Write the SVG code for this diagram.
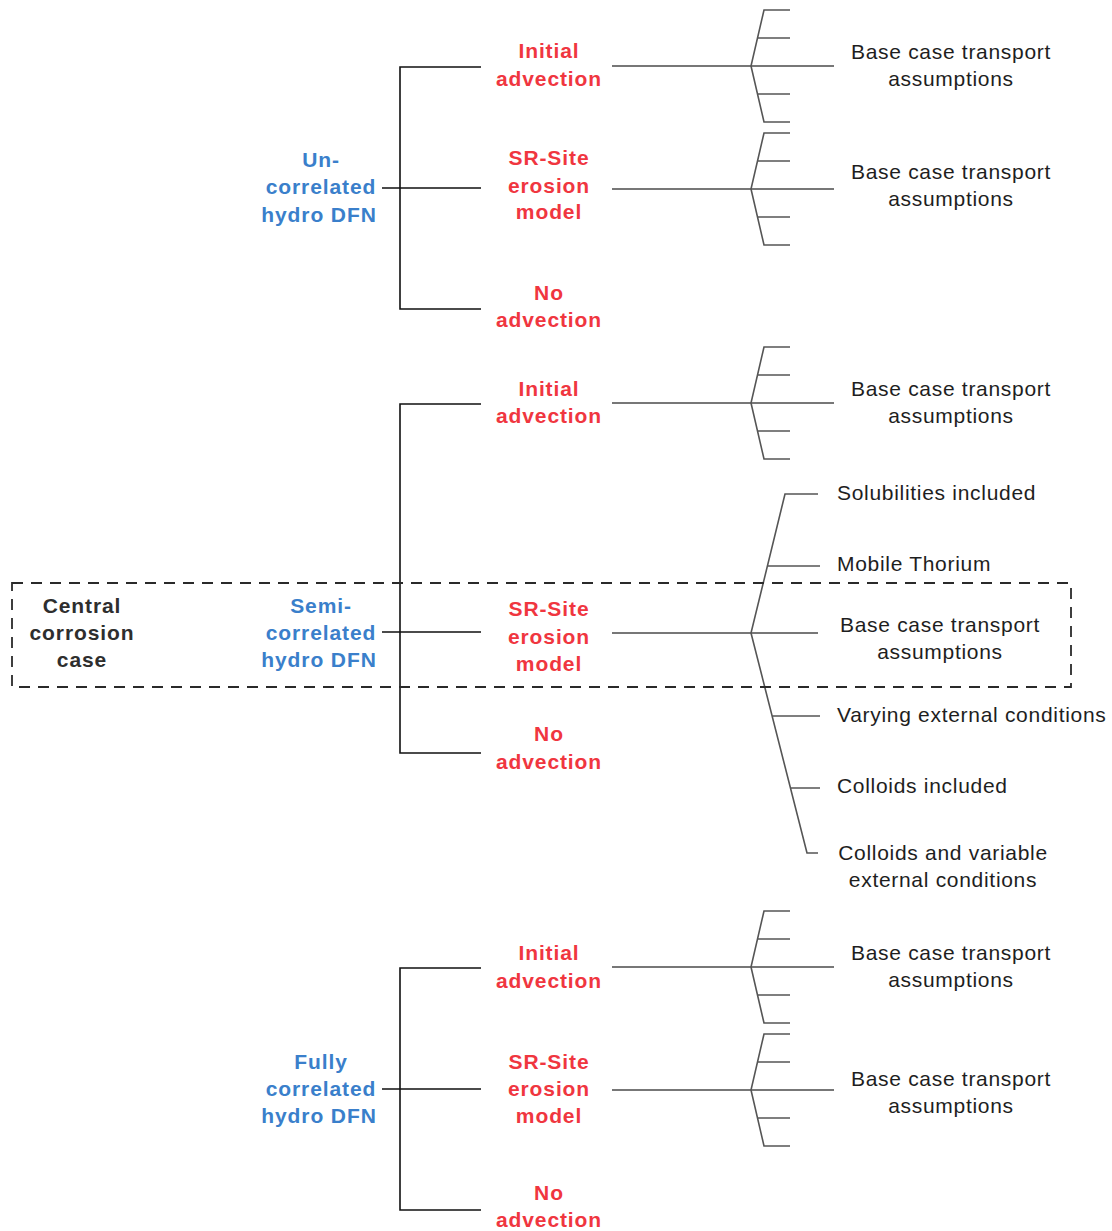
<svg xmlns="http://www.w3.org/2000/svg" width="1112" height="1231" viewBox="0 0 1112 1231">
<style>
.red{font-family:"Liberation Sans",Arial,sans-serif;font-weight:bold;font-size:21px;fill:#f0363f;text-anchor:middle;letter-spacing:0.9px}
.blue{font-family:"Liberation Sans",Arial,sans-serif;font-weight:bold;font-size:21px;fill:#3a7fcb;text-anchor:middle;letter-spacing:0.9px}
.dark{font-family:"Liberation Sans",Arial,sans-serif;font-weight:bold;font-size:21px;fill:#2e2e2e;text-anchor:middle;letter-spacing:0.9px}
.blk{font-family:"Liberation Sans",Arial,sans-serif;font-size:21px;fill:#1e1e1e;letter-spacing:0.7px}
.mid{text-anchor:middle}
.br{fill:none;stroke:#111;stroke-width:1.6}
.fan{fill:none;stroke:#555;stroke-width:1.6}
.main{fill:none;stroke:#777;stroke-width:2}
.box{fill:none;stroke:#2a2a2a;stroke-width:1.8;stroke-dasharray:11 8}
</style>
<rect width="1112" height="1231" fill="#fff"/>
<defs>
<g id="fan5">
<path class="fan" d="M790,-56 H764 L751,0 L764,56 H790 M757.5,-28 H790 M757.5,28 H790"/>
</g>
</defs>
<g id="connectors">
<path class="br" d="M481,67 H400 V309 H481 M382,188 H481"/>
<path class="br" d="M481,404 H400 V753 H481 M382,632 H481"/>
<path class="br" d="M481,968 H400 V1210 H481 M382,1089 H481"/>
<path class="main" d="M612,66 H834"/>
<use href="#fan5" x="0" y="66"/>
<path class="main" d="M612,189 H834"/>
<use href="#fan5" x="0" y="189"/>
<path class="main" d="M612,403 H834"/>
<use href="#fan5" x="0" y="403"/>
<path class="main" d="M612,967 H834"/>
<use href="#fan5" x="0" y="967"/>
<path class="main" d="M612,1090 H834"/>
<use href="#fan5" x="0" y="1090"/>
<path class="main" d="M612,633 H818"/>
<path class="fan" d="M818,494 H785 L751,633 L807,853 H818 M767.5,566 H820 M772,716 H820 M790.5,788 H820"/>
</g>
<rect id="central-box" class="box" x="12" y="583" width="1059" height="104"/>
<g id="central"><text class="dark" x="82" y="613">Central</text><text class="dark" x="82" y="640">corrosion</text><text class="dark" x="82" y="667">case</text></g>
<g id="uncorrelated"><text class="blue" x="321" y="167">Un-</text><text class="blue" x="321" y="194">correlated</text><text class="blue" x="319" y="222">hydro DFN</text></g>
<g id="semicorrelated"><text class="blue" x="321" y="613">Semi-</text><text class="blue" x="321" y="640">correlated</text><text class="blue" x="319" y="667">hydro DFN</text></g>
<g id="fullycorrelated"><text class="blue" x="321" y="1069">Fully</text><text class="blue" x="321" y="1096">correlated</text><text class="blue" x="319" y="1123">hydro DFN</text></g>
<g id="u-initial"><text class="red" x="549" y="58">Initial</text><text class="red" x="549" y="86">advection</text></g>
<g id="u-srsite"><text class="red" x="549" y="165">SR-Site</text><text class="red" x="549" y="193">erosion</text><text class="red" x="549" y="219">model</text></g>
<g id="u-noadv"><text class="red" x="549" y="300">No</text><text class="red" x="549" y="327">advection</text></g>
<g id="s-initial"><text class="red" x="549" y="396">Initial</text><text class="red" x="549" y="423">advection</text></g>
<g id="s-srsite"><text class="red" x="549" y="616">SR-Site</text><text class="red" x="549" y="644">erosion</text><text class="red" x="549" y="671">model</text></g>
<g id="s-noadv"><text class="red" x="549" y="741">No</text><text class="red" x="549" y="769">advection</text></g>
<g id="f-initial"><text class="red" x="549" y="960">Initial</text><text class="red" x="549" y="988">advection</text></g>
<g id="f-srsite"><text class="red" x="549" y="1069">SR-Site</text><text class="red" x="549" y="1096">erosion</text><text class="red" x="549" y="1123">model</text></g>
<g id="f-noadv"><text class="red" x="549" y="1200">No</text><text class="red" x="549" y="1227">advection</text></g>
<g id="base1"><text class="blk mid" x="951" y="59">Base case transport</text><text class="blk mid" x="951" y="86">assumptions</text></g>
<g id="base2"><text class="blk mid" x="951" y="179">Base case transport</text><text class="blk mid" x="951" y="206">assumptions</text></g>
<g id="base3"><text class="blk mid" x="951" y="396">Base case transport</text><text class="blk mid" x="951" y="423">assumptions</text></g>
<g id="solubilities"><text class="blk" x="837" y="500">Solubilities included</text></g>
<g id="thorium"><text class="blk" x="837" y="571">Mobile Thorium</text></g>
<g id="base-central"><text class="blk mid" x="940" y="632">Base case transport</text><text class="blk mid" x="940" y="659">assumptions</text></g>
<g id="varying"><text class="blk" x="837" y="722">Varying external conditions</text></g>
<g id="colloids"><text class="blk" x="837" y="793">Colloids included</text></g>
<g id="colloids-var"><text class="blk mid" x="943" y="860">Colloids and variable</text><text class="blk mid" x="943" y="887">external conditions</text></g>
<g id="base4"><text class="blk mid" x="951" y="960">Base case transport</text><text class="blk mid" x="951" y="987">assumptions</text></g>
<g id="base5"><text class="blk mid" x="951" y="1086">Base case transport</text><text class="blk mid" x="951" y="1113">assumptions</text></g>
</svg>
